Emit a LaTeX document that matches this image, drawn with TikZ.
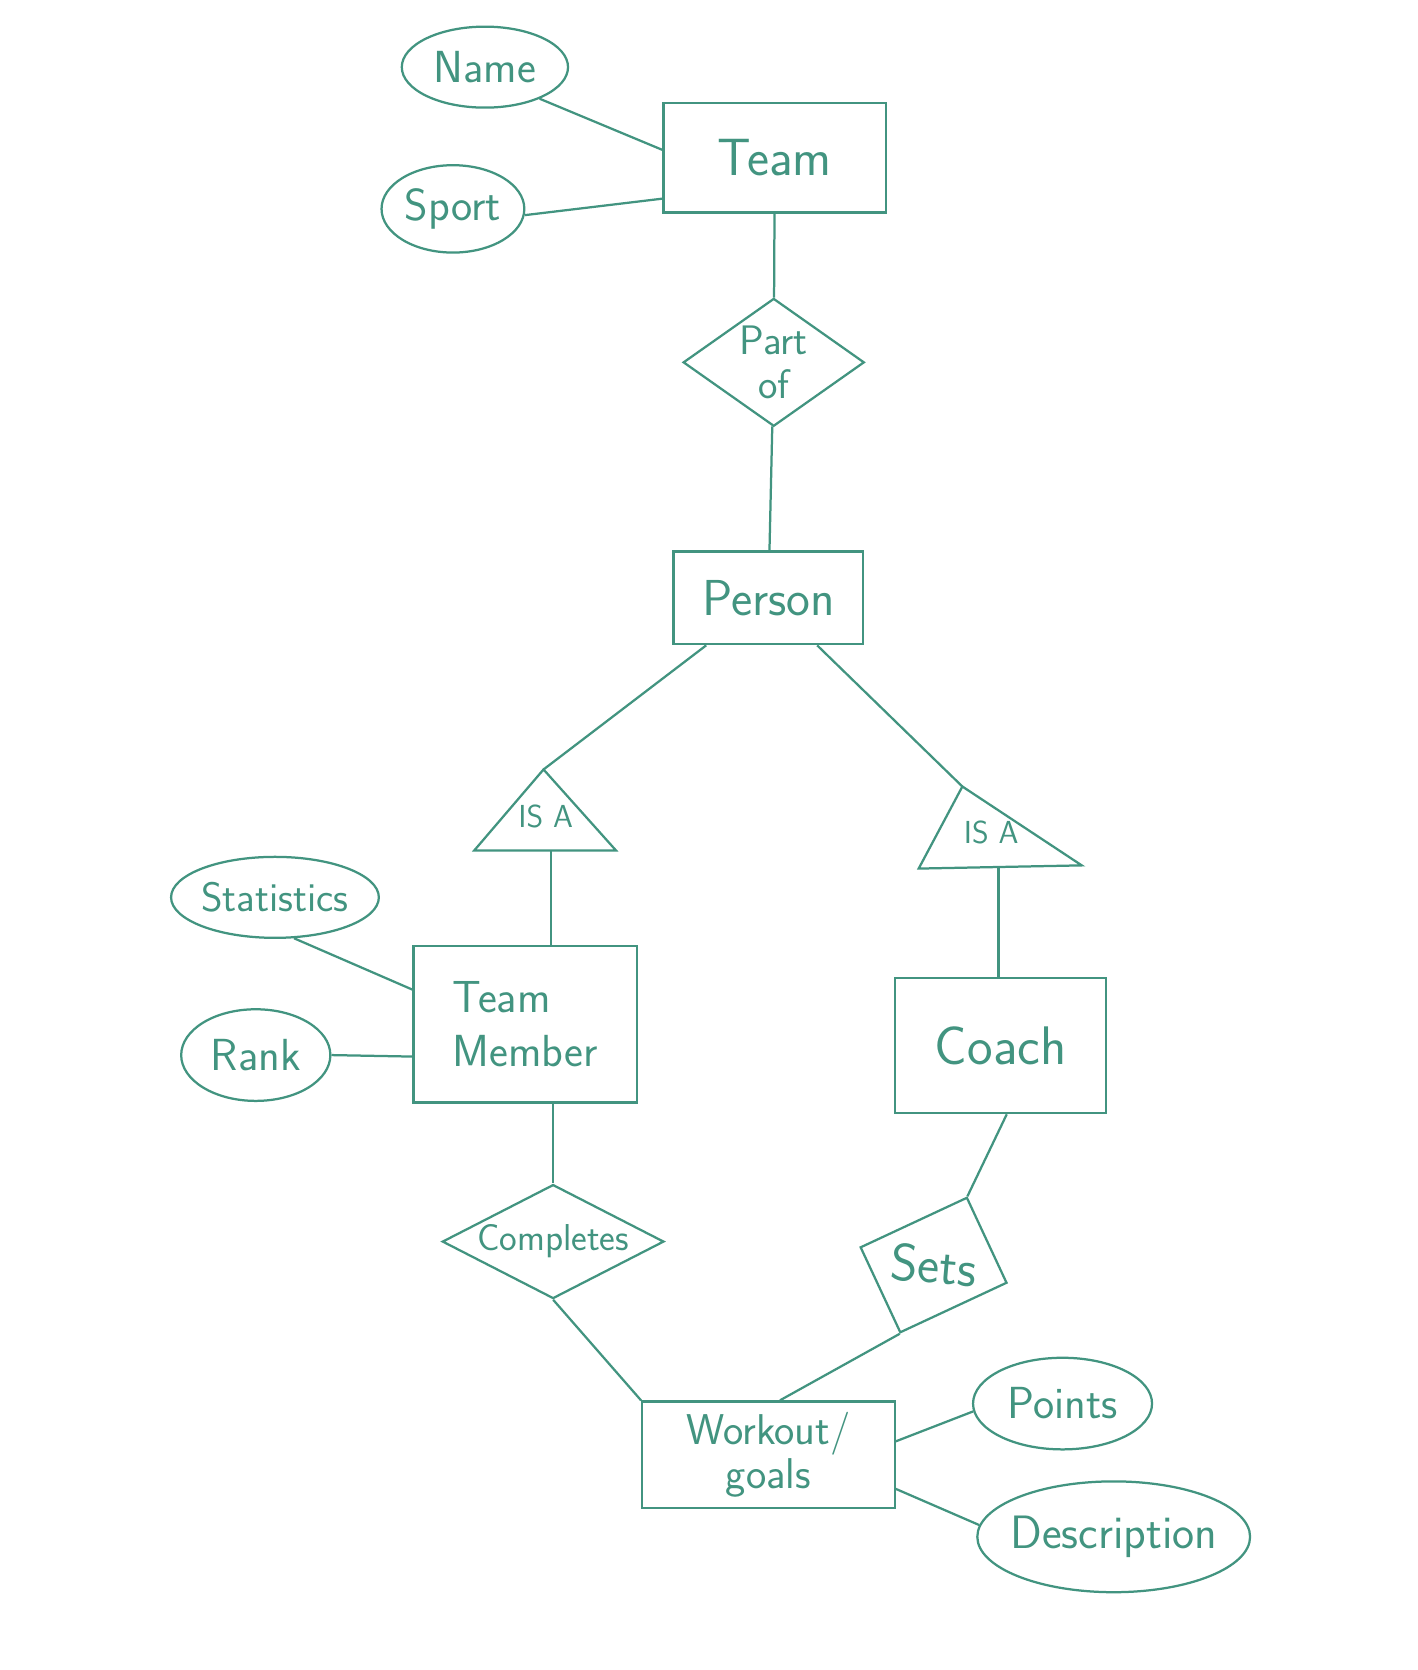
\documentclass[tikz,border=0pt]{standalone}
\usepackage{fontspec}
\usepackage{tikz}
\usetikzlibrary{calc,shapes.geometric}
\definecolor{ink}{RGB}{66,148,128}
\def\hand{\sffamily\fontsize{24}{29}\selectfont}
\def\zw#1{\makebox[0pt]{#1}}
\tikzset{
	pen/.style={draw=ink, line width=1.2pt},
	word/.style={text=ink, font=\hand, inner sep=0pt},
	entity/.style={pen, word, rectangle},
	attrib/.style={pen, word, ellipse},
	relation/.style={pen, word, diamond},
}

\begin{document}
\begin{tikzpicture}[x=0.02cm, y=-0.02cm]
	%%%%% START %%%%%
	\fill[white] (0,0) rectangle (1330,1567);
	\useasboundingbox (0,0) rectangle (1330,1567);
	
	% Team and its attributes
	\node[entity, minimum width=4.18cm, minimum height=2.06cm, font=\sffamily\fontsize{28}{32}\selectfont] (team) at (727,148) {Team};
	\node[attrib, minimum width=3.12cm, minimum height=1.52cm] (name) at (455,63) {\zw{Name}};
	\node[attrib, minimum width=2.68cm, minimum height=1.64cm] (sport) at (425,196) {\zw{Sport}};
	\draw[pen] (name.-30) -- (team.176);
	\draw[pen] (sport.-5) -- (team.200);
	
	% Part of
	\node[relation, minimum width=3.4cm, minimum height=2.4cm, font=\sffamily\fontsize{22}{22}\selectfont] (partof) at (726,340) {\zw{\shortstack{Part\\[5pt]of}}};
	\draw[pen] (team) -- (partof);
	
	\node[entity, minimum width=3.56cm, minimum height=1.74cm, font=\sffamily\fontsize{27}{32}\selectfont] (person) at (721,561) {Person};
	\draw[pen] (partof) -- (person);
	
	% IS A triangles
	\coordinate (isaL top) at (510,722);
	\coordinate (isaL foot) at (517,798);
	\draw[pen] (isaL top) -- (445,798) -- (578,798) -- cycle;
	\node[word, font=\sffamily\fontsize{17}{20}\selectfont] (isaL) at (512,766) {IS A};
	
	\coordinate (isaR top) at (903,738);
	\coordinate (isaR foot) at (937,813);
	\draw[pen] (isaR top) -- (862,815) -- (1015,812) -- cycle;
	\node[word, font=\sffamily\fontsize{17}{20}\selectfont] (isaR) at (930,781) {IS A};
	
	\draw[pen] (person) -- (isaL top);
	\draw[pen] (person) -- (isaR top);
	
	% Team Member
	\node[entity, minimum width=4.2cm, minimum height=2.94cm, align=left] (member) at (493,961) {Team\\Member};
	\node[attrib, minimum width=3.9cm, minimum height=1.52cm, font=\sffamily\fontsize{22}{26}\selectfont] (stats) at (258,842) {\zw{Statistics}};
	\node[attrib, minimum width=2.8cm, minimum height=1.72cm] (rank) at (240,990) {\zw{Rank}};
	\draw[pen] (stats.-65) -- (member.163);
	\draw[pen] (rank.east) -- (member.196);
	\draw[pen] (isaL foot) -- (isaL foot |- member.north);
	
	% Coach
	\node[entity, minimum width=3.96cm, minimum height=2.54cm, font=\sffamily\fontsize{29}{34}\selectfont] (coach) at (939,981) {Coach};
	\draw[pen] (isaR foot) -- (isaR foot |- coach.north);
	
	% Completes and Sets
	\node[relation, minimum width=4.16cm, minimum height=2.14cm, font=\sffamily\fontsize{20}{24}\selectfont] (completes) at (519,1165) {\zw{Completes}};
	\draw[pen] (completes.north |- member.south) -- (completes.north);
	
	\node[pen, rectangle, rotate=25, minimum width=2.2cm, minimum height=1.76cm] (sets) at (876,1187) {};
	\node[word, font=\sffamily\fontsize{28}{32}\selectfont, rotate=-5] (sets text) at (sets) {Sets};
	\draw[pen] (coach.-85) -- (sets.north east);
	
	% Workout/goals and its attributes
	\node[entity, minimum width=4.74cm, minimum height=2cm, align=center, font=\sffamily\fontsize{23}{23}\selectfont] (workout) at (721,1365) {Workout/\\goals};
	\draw[pen] (completes.south) -- (workout.north west);
	\draw[pen] (sets.south west) -- (workout.78);
	
	\node[attrib, minimum width=3.36cm, minimum height=1.72cm] (points) at (997,1317) {\zw{Points}};
	\node[attrib, minimum width=5.12cm, minimum height=2.08cm, font=\sffamily\fontsize{25}{30}\selectfont] (desc) at (1045,1442) {\zw{Description}};
	\draw[pen] (workout.6) -- (points.185);
	\draw[pen] (workout.-15) -- (desc.175);
	
	%%%%% END %%%%%
\end{tikzpicture}
\end{document}
